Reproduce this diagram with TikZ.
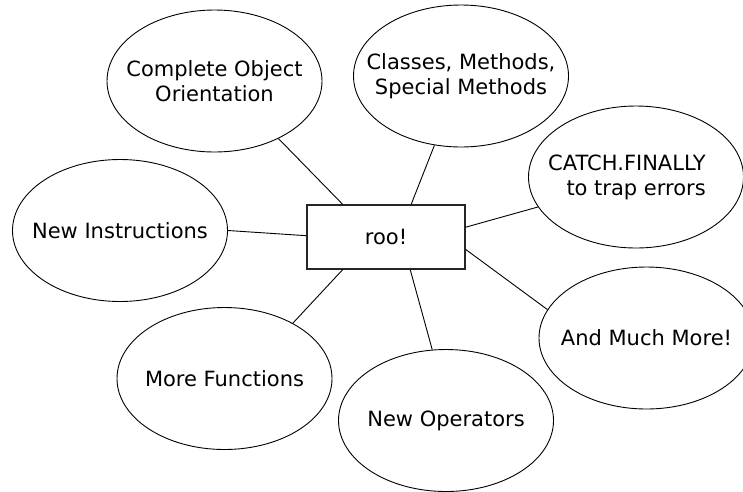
\documentclass[tikz,border=0pt]{standalone}
\usepackage{fontspec}
\setmainfont{DejaVu Sans}
\usetikzlibrary{shapes.geometric,calc}
\tikzset{
  bubble/.style={ellipse, draw=black, line width=0.9pt, minimum width=215pt,
    minimum height=142pt, inner xsep=-60pt, inner ysep=-40pt, align=center,
    font=\fontsize{21}{25}\selectfont},
  centerbox/.style={rectangle, draw=black!85, line width=1.3pt, minimum width=158pt,
    minimum height=64pt, inner sep=0pt, font=\fontsize{21}{25}\selectfont},
  link/.style={draw=black, line width=0.9pt}
}
\begin{document}
\begin{tikzpicture}[x=1pt,y=-1pt]
\useasboundingbox (0,0) rectangle (743,491);
\begin{scope}
\clip (0,0) rectangle (743,491);
\node[centerbox] (box) at (386,237) {roo!};
\node[bubble] (e1) at (214.5,81) {Complete Object\\Orientation};
\node[bubble] (e2) at (461,76) {Classes, Methods,\\Special Methods};
\node[bubble, align=right] (e3) at (636,177) {CATCH.FINALLY\hspace*{18pt}\\to trap errors\hspace*{18pt}};
\node[bubble] (e4) at (120,230.5) {New Instructions};
\node[bubble] (e5) at (224.5,378.5) {More Functions};
\node[bubble] (e6) at (446,420.5) {New Operators};
\node[bubble] (e7) at (646.5,338) {And Much More!};
\draw[link] (e1.-42.4) -- ($(box.north west)!0.228!(box.north east)$);
\draw[link] (e2.-111.4) -- ($(box.north west)!0.658!(box.north east)$);
\draw[link] (e3.197) -- ($(box.north east)!0.35!(box.south east)$);
\draw[link] (e4.0) -- ($(box.north west)!0.48!(box.south west)$);
\draw[link] (e5.39) -- ($(box.south west)!0.228!(box.south east)$);
\draw[link] (e6.101.4) -- ($(box.south west)!0.652!(box.south east)$);
\draw[link] (e7.164.4) -- ($(box.north east)!0.69!(box.south east)$);
\end{scope}
\end{tikzpicture}
\end{document}
